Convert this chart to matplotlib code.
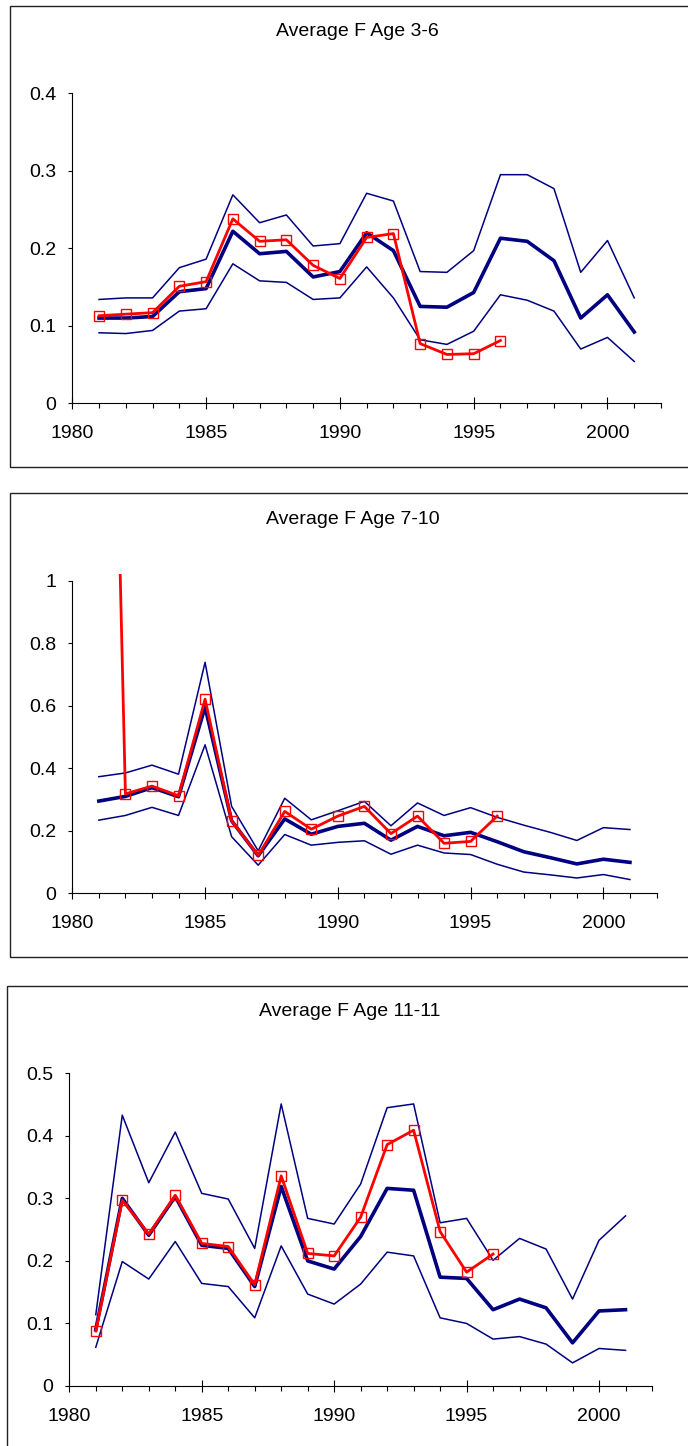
import matplotlib
matplotlib.use("Agg")
import matplotlib.pyplot as plt
from matplotlib.patches import Rectangle
from matplotlib.ticker import MultipleLocator, FormatStrFormatter

plt.rcParams['font.family'] = ['Liberation Sans', 'DejaVu Sans']

years = list(range(1981, 2002))
years_red = list(range(1981, 1997))

# Average F Age 3-6
f36_up = [0.134, 0.136, 0.136, 0.175, 0.186, 0.269, 0.233, 0.243, 0.203, 0.206, 0.271,
          0.261, 0.170, 0.169, 0.197, 0.295, 0.295, 0.277, 0.169, 0.210, 0.136]
f36_mid = [0.110, 0.110, 0.112, 0.144, 0.148, 0.222, 0.193, 0.196, 0.163, 0.170, 0.220,
           0.197, 0.125, 0.124, 0.143, 0.213, 0.209, 0.184, 0.110, 0.140, 0.092]
f36_lo = [0.091, 0.090, 0.094, 0.119, 0.122, 0.180, 0.158, 0.156, 0.134, 0.136, 0.176,
          0.136, 0.082, 0.076, 0.093, 0.140, 0.133, 0.119, 0.070, 0.085, 0.054]
f36_red = [0.113, 0.115, 0.117, 0.151, 0.157, 0.238, 0.209, 0.211, 0.178, 0.161, 0.214,
           0.219, 0.077, 0.063, 0.064, 0.081]

# Average F Age 7-10
f710_up = [0.373, 0.385, 0.410, 0.381, 0.739, 0.278, 0.136, 0.304, 0.235, 0.264, 0.294,
           0.216, 0.289, 0.249, 0.274, 0.243, 0.218, 0.195, 0.169, 0.210, 0.204]
f710_mid = [0.295, 0.310, 0.338, 0.309, 0.596, 0.232, 0.120, 0.238, 0.189, 0.214, 0.224,
            0.170, 0.214, 0.184, 0.195, 0.165, 0.133, 0.114, 0.094, 0.109, 0.099]
f710_lo = [0.234, 0.249, 0.275, 0.249, 0.475, 0.181, 0.090, 0.188, 0.154, 0.163, 0.168,
           0.125, 0.154, 0.129, 0.124, 0.093, 0.068, 0.059, 0.049, 0.060, 0.044]
f710_red = [3.9, 0.318, 0.343, 0.312, 0.621, 0.232, 0.121, 0.262, 0.205, 0.247, 0.278,
            0.191, 0.247, 0.160, 0.166, 0.247]

# Average F Age 11-11
f11_up = [0.114, 0.433, 0.325, 0.406, 0.308, 0.299, 0.220, 0.451, 0.268, 0.259, 0.323,
          0.445, 0.451, 0.261, 0.268, 0.201, 0.236, 0.219, 0.139, 0.233, 0.272]
f11_mid = [0.090, 0.300, 0.241, 0.303, 0.225, 0.220, 0.159, 0.319, 0.200, 0.187, 0.239,
           0.316, 0.313, 0.174, 0.172, 0.122, 0.139, 0.125, 0.069, 0.120, 0.122]
f11_lo = [0.062, 0.199, 0.171, 0.231, 0.164, 0.159, 0.109, 0.224, 0.147, 0.131, 0.163,
          0.214, 0.208, 0.109, 0.100, 0.075, 0.079, 0.067, 0.037, 0.060, 0.057]
f11_red = [0.088, 0.297, 0.243, 0.305, 0.228, 0.223, 0.162, 0.336, 0.212, 0.208, 0.270,
           0.386, 0.409, 0.247, 0.182, 0.211]

titles = ["Average F Age 3-6", "Average F Age 7-10", "Average F Age 11-11"]

W, H = 688, 1446
fig = plt.figure(figsize=(W / 100, H / 100), dpi=100)

# pixel layout: box (left, top, bottom), axis (x0, x1, y of zero, y of top tick), title (x, y)
panels = [
    dict(box=(9.5, 6, 467), ax=(72.3, 661, 403.3, 93.3), tmax=0.4, ytop=0.4, step=0.1,
         title=(357, 32), data=(f36_up, f36_mid, f36_lo, f36_red)),
    dict(box=(9.5, 493, 957), ax=(72.3, 656.5, 893.3, 580.7), tmax=1.0, ytop=1.02, step=0.2,
         title=(353, 519), data=(f710_up, f710_mid, f710_lo, f710_red)),
    dict(box=(7, 986, 1460), ax=(69.3, 652, 1386, 1073.3), tmax=0.5, ytop=0.5, step=0.1,
         title=(350, 1012), data=(f11_up, f11_mid, f11_lo, f11_red)),
]

navy = '#000080'
red = '#ff0000'
fs = 14

for p, title in zip(panels, titles):
    bl, bt, bb = p['box']
    fig.patches.append(Rectangle((bl / W, 1 - bb / H), (700 - bl) / W, (bb - bt) / H,
                                 transform=fig.transFigure, fill=False,
                                 edgecolor='#222222', linewidth=1.0))
    x0, x1, yz, yt = p['ax']
    scale = (yz - yt) / p['tmax']
    top_px = yz - p['ytop'] * scale
    ax = fig.add_axes([x0 / W, 1 - yz / H, (x1 - x0) / W, (yz - top_px) / H])
    ax.patch.set_alpha(0)

    up, mid, lo, rd = p['data']
    ax.plot(years, up, color=navy, lw=1.1)
    ax.plot(years, lo, color=navy, lw=1.1)
    ax.plot(years, mid, color=navy, lw=2.6)
    ax.plot(years_red, rd, color=red, lw=2.0, marker='s', ms=6.5,
            mfc='none', mec=red, mew=1.0)

    ax.set_xlim(1980, 2002)
    ax.set_ylim(0, p['ytop'])
    ax.spines['top'].set_visible(False)
    ax.spines['right'].set_visible(False)
    for s in ('left', 'bottom'):
        ax.spines[s].set_linewidth(0.8)
    ax.spines['left'].set_bounds(0, p['tmax'])

    ax.xaxis.set_major_locator(MultipleLocator(5))
    ax.xaxis.set_minor_locator(MultipleLocator(1))
    ax.yaxis.set_major_locator(MultipleLocator(p['step']))
    ax.yaxis.set_major_formatter(FormatStrFormatter('%g'))
    ax.tick_params(axis='x', which='major', direction='inout', length=8.6, width=0.8,
                   pad=11.5, labelsize=fs)
    ax.tick_params(axis='x', which='minor', direction='out', length=3.6, width=0.8)
    ax.tick_params(axis='y', direction='out', length=3.0, width=0.8, pad=8.5, labelsize=fs)

    fig.text(p['title'][0] / W, 1 - p['title'][1] / H, title, ha='center', va='center',
             fontsize=fs)

fig.savefig('out.png', dpi=100)
